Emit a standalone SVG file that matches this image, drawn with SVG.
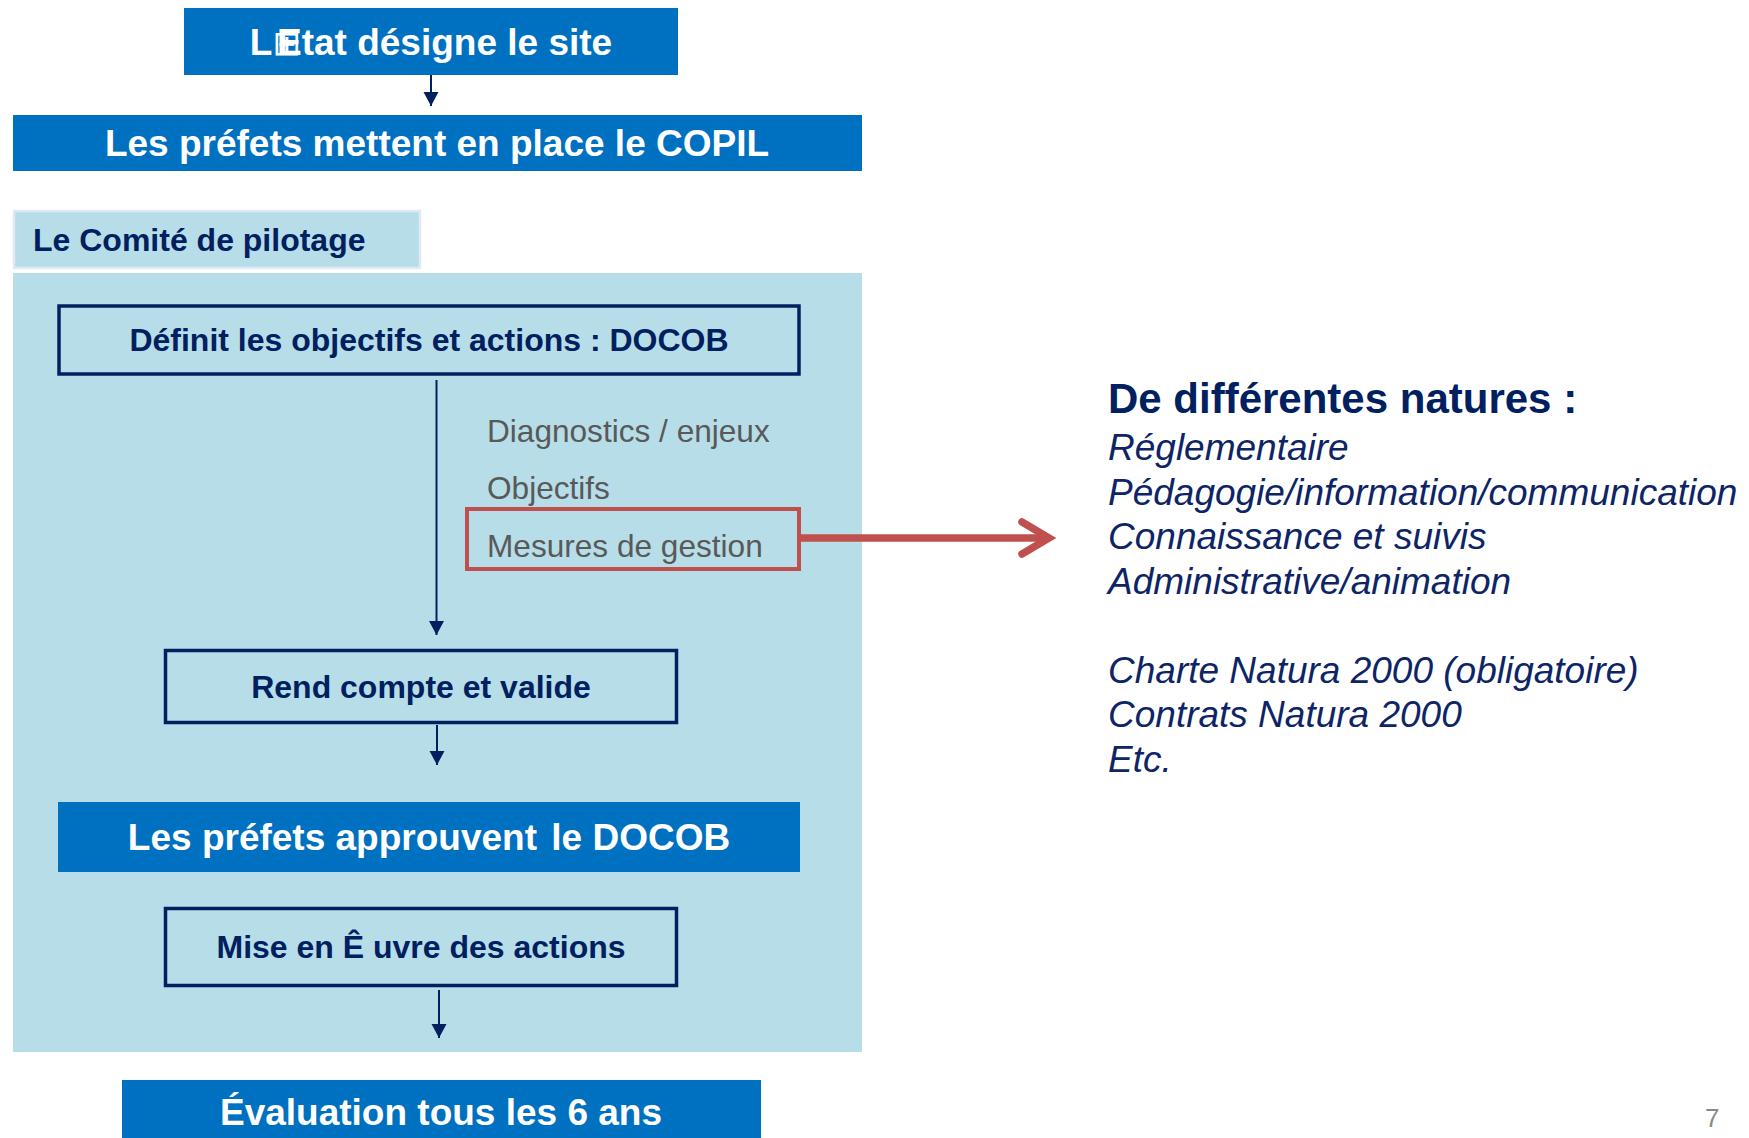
<svg xmlns="http://www.w3.org/2000/svg" width="1749" height="1138" viewBox="0 0 1749 1138">
<style>
.blue{fill:#0070c0}
.wt{fill:#ffffff;font-family:"Liberation Sans",Arial,sans-serif;font-weight:bold;font-size:37px;text-anchor:middle}
.nbox{fill:none;stroke:#002060;stroke-width:3.5}
.nt{fill:#002060;font-family:"Liberation Sans",Arial,sans-serif;font-weight:bold;font-size:32px;text-anchor:middle}
.gt{fill:#595959;font-family:"Liberation Sans",Arial,sans-serif;font-size:31.6px}
.it{fill:#0d2466;font-family:"Liberation Sans",Arial,sans-serif;font-style:italic;font-size:37px}
.conn{stroke:#002060;stroke-width:2;fill:none}
</style>
<defs>
<marker id="ah" markerUnits="userSpaceOnUse" markerWidth="16" markerHeight="16" refX="14" refY="7.5" orient="auto">
<path d="M0,0 L14,7.5 L0,15 Z" fill="#002060"/>
</marker>
</defs>
<rect width="1749" height="1138" fill="#ffffff"/>
<g id="panel">
<rect x="13" y="273" width="849" height="779" fill="#b7dde8"/>
</g>
<g id="n-etat">
<rect class="blue" x="184" y="8" width="494" height="67"/>
<text class="wt" x="431" y="55">L<tspan font-family="'DejaVu Sans',sans-serif" font-weight="normal" font-size="34px">⊞</tspan><tspan dx="-24">Etat désigne le site</tspan></text>
</g>
<g id="n-copil">
<rect class="blue" x="13" y="115" width="849" height="56"/>
<text class="wt" x="437" y="156">Les préfets mettent en place le COPIL</text>
</g>
<g id="n-comite">
<rect x="14" y="211" width="406" height="57" fill="#b7dde8" stroke="#e2e9f5" stroke-width="2.5"/>
<text x="33" y="251" fill="#002060" font-family="'Liberation Sans',Arial,sans-serif" font-weight="bold" font-size="32px">Le Comité de pilotage</text>
</g>
<g id="n-definit">
<rect class="nbox" x="59" y="306" width="740" height="68"/>
<text class="nt" x="429" y="351">Définit les objectifs et actions : DOCOB</text>
</g>
<g id="n-list">
<text class="gt" x="487" y="442">Diagnostics / enjeux</text>
<text class="gt" x="487" y="499">Objectifs</text>
</g>
<g id="n-mesures">
<rect x="467" y="509" width="332" height="60" fill="none" stroke="#c0504d" stroke-width="4"/>
<text class="gt" x="487" y="557">Mesures de gestion</text>
</g>
<g id="n-rend">
<rect class="nbox" x="165.5" y="650.5" width="511" height="72"/>
<text class="nt" x="421" y="698">Rend compte et valide</text>
</g>
<g id="n-approuvent">
<rect class="blue" x="58" y="802" width="742" height="70"/>
<text class="wt" x="429" y="850">Les préfets approuvent <tspan dx="4">le DOCOB</tspan></text>
</g>
<g id="n-mise">
<rect class="nbox" x="165.5" y="908.5" width="511" height="77"/>
<text class="nt" x="421" y="958">Mise en Ê uvre des actions</text>
</g>
<g id="n-evaluation">
<rect class="blue" x="122" y="1080" width="639" height="58"/>
<text class="wt" x="441" y="1125">Évaluation tous les 6 ans</text>
</g>
<g id="n-natures">
<text x="1108" y="413" fill="#002060" font-family="'Liberation Sans',Arial,sans-serif" font-weight="bold" font-size="42px">De différentes natures :</text>
<text class="it" x="1108" y="460">Réglementaire</text>
<text class="it" x="1108" y="504.5">Pédagogie/information/communication</text>
<text class="it" x="1108" y="549">Connaissance et suivis</text>
<text class="it" x="1108" y="593.5">Administrative/animation</text>
<text class="it" x="1108" y="682.5">Charte Natura 2000 (obligatoire)</text>
<text class="it" x="1108" y="727">Contrats Natura 2000</text>
<text class="it" x="1108" y="771.5">Etc.</text>
</g>
<g id="page-number">
<text x="1705" y="1127" fill="#8a8a8a" font-family="'Liberation Sans',Arial,sans-serif" font-size="26px">7</text>
</g>
<g id="connectors">
<line class="conn" x1="431" y1="75" x2="431" y2="106" marker-end="url(#ah)"/>
<line class="conn" x1="436.5" y1="380" x2="436.5" y2="635" marker-end="url(#ah)"/>
<line class="conn" x1="437" y1="725" x2="437" y2="765" marker-end="url(#ah)"/>
<line class="conn" x1="439" y1="990" x2="439" y2="1038" marker-end="url(#ah)"/>
<line x1="801" y1="538" x2="1046" y2="538" stroke="#c0504d" stroke-width="7.5"/>
<polyline points="1022,522 1049,538 1022,554" fill="none" stroke="#c0504d" stroke-width="7.5" stroke-linecap="round" stroke-linejoin="miter"/>
</g>
</svg>
